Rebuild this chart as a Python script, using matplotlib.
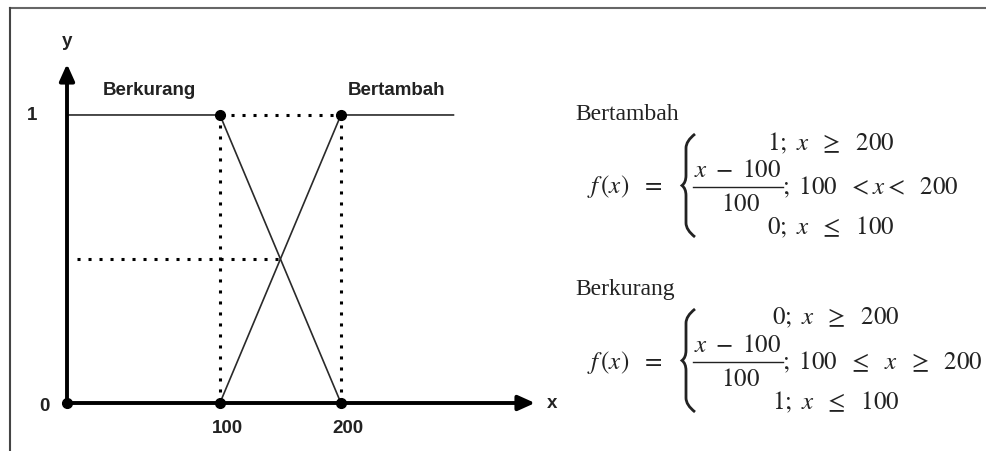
import matplotlib.pyplot as plt
from matplotlib.lines import Line2D
from matplotlib.path import Path
from matplotlib.patches import PathPatch

plt.rcParams['mathtext.fontset'] = 'stix'

# data
breakpoints = [100, 200]
berkurang_y = [1, 1, 0]
bertambah_y = [0, 1, 1]
tick_labels = ["100", "200"]
set_names = ["Berkurang", "Bertambah"]

bertambah_rows = [r"$1;\ x\ \ \geq\ \ 200$", r"$;\ 100\ \ < x <\ \ 200$", r"$0;\ x\ \ \leq\ \ 100$"]
berkurang_rows = [r"$0;\ x\ \ \geq\ \ 200$", r"$;\ 100\ \ \leq\ \ x\ \ \geq\ \ 200$", r"$1;\ x\ \ \leq\ \ 100$"]

W, H = 987, 452
fig = plt.figure(figsize=(W / 100, H / 100), dpi=100)


def px(x, y):
    return x / W, 1 - y / H


# left chart: axes box from y-axis (px 67) to arrow tips
x_left, x_right = -26.4, 360.4
y_top = 1.177
ax = fig.add_axes([67 / W, (H - 404) / H, (535 - 67) / W, (404 - 65) / H])
ax.set_xlim(x_left, x_right)
ax.set_ylim(0, y_top)
ax.axis('off')

x_end = 293
lo, hi = breakpoints
ax.plot([x_left, lo, hi], berkurang_y, color='#2a2a2a', lw=1.2, clip_on=False)
ax.plot([lo, hi, x_end], bertambah_y, color='#2a2a2a', lw=1.2, clip_on=False)

dot = dict(color='black', lw=2.2, linestyle=(0, (1, 2.6)), clip_on=False)
ax.plot([lo, lo], [0, 1], **dot)
ax.plot([hi, hi], [0, 1], **dot)
ax.plot([lo, hi], [1, 1], **dot)
# crossing of the two lines
cx = (lo + hi) / 2
cy = 0.5
ax.plot([x_left + 8, cx], [cy, cy], **dot)

# axes arrows
arrow = dict(arrowstyle='-|>,head_length=1.0,head_width=0.45', lw=2.8,
             color='black', mutation_scale=10, shrinkA=0, shrinkB=0)
ax.annotate('', xy=(x_right, 0), xytext=(x_left, 0), arrowprops=arrow, annotation_clip=False)
ax.annotate('', xy=(x_left, y_top), xytext=(x_left, 0), arrowprops=arrow, annotation_clip=False)

ax.plot([x_left, lo, hi, lo, hi], [0, 0, 0, 1, 1], 'o', color='black', ms=7, clip_on=False)

bold = dict(family='Liberation Sans', fontweight='bold', fontsize=13.5, color='#222222')
ax.text(x_left, 1.26, 'y', ha='center', va='center', **bold)
ax.text(x_right + 14, 0, 'x', ha='center', va='center', **bold)
ax.text(x_left - 29, 1, '1', ha='center', va='center', **bold)
ax.text(x_left - 19, -0.01, '0', ha='center', va='center', **bold)
for xv, lab in zip(breakpoints, tick_labels):
    ax.text(xv + 6, -0.085, lab, ha='center', va='center', **bold)
ax.text(42, 1.09, set_names[0], ha='center', va='center', **bold)
ax.text(246, 1.09, set_names[1], ha='center', va='center', **bold)


# right side: formulas
def brace(x, y0, y1):
    ym = (y0 + y1) / 2
    w = 9
    verts = [px(x, y0), px(x - w, y0 + 7), px(x - w, y0 + 14), px(x - w, ym - 10),
             px(x - w, ym - 3), px(x - w - 4, ym), px(x - w, ym + 3),
             px(x - w, ym + 10), px(x - w, y1 - 14), px(x - w, y1 - 7), px(x, y1)]
    codes = [Path.MOVETO, Path.CURVE3, Path.CURVE3, Path.LINETO,
             Path.CURVE3, Path.CURVE3, Path.CURVE3, Path.CURVE3,
             Path.LINETO, Path.CURVE3, Path.CURVE3]
    fig.patches.append(PathPatch(Path(verts, codes), transform=fig.transFigure,
                                 fill=False, lw=2.0, color='#222222'))


def block(title, ty, rows, fy, row_x):
    fs = 18
    fig.text(*px(575, ty), title, family='Liberation Serif', fontsize=17,
             ha='left', va='center', color='#222222')
    fig.text(*px(587, fy), r"$f\,(x)\ \ =$", fontsize=fs, ha='left', va='center', color='#222222')
    brace(695, fy - 52, fy + 51)
    fig.text(*px(row_x, fy - 44), rows[0], fontsize=fs, ha='center', va='center', color='#222222')
    fig.text(*px(738, fy - 17), r"$x\ -\ 100$", fontsize=fs, ha='center', va='center', color='#222222')
    fig.add_artist(Line2D([px(693, 0)[0], px(783, 0)[0]], [px(0, fy + 1)[1]] * 2,
                          lw=1.0, color='#222222'))
    fig.text(*px(740, fy + 17), r"$100$", fontsize=fs, ha='center', va='center', color='#222222')
    fig.text(*px(782, fy), rows[1], fontsize=fs, ha='left', va='center', color='#222222')
    fig.text(*px(row_x, fy + 40), rows[2], fontsize=fs, ha='center', va='center', color='#222222')


block("Bertambah", 114, bertambah_rows, 187, 831)
block("Berkurang", 290, berkurang_rows, 362, 836)

# frame lines at top and left
fig.add_artist(Line2D([10 / W, 986 / W], [1 - 8.5 / H] * 2, lw=1.5, color='#666666'))
fig.add_artist(Line2D([10 / W, 10 / W], [0, 1 - 8.5 / H], lw=1.5, color='#444444'))

fig.savefig('out.png', dpi=100)
